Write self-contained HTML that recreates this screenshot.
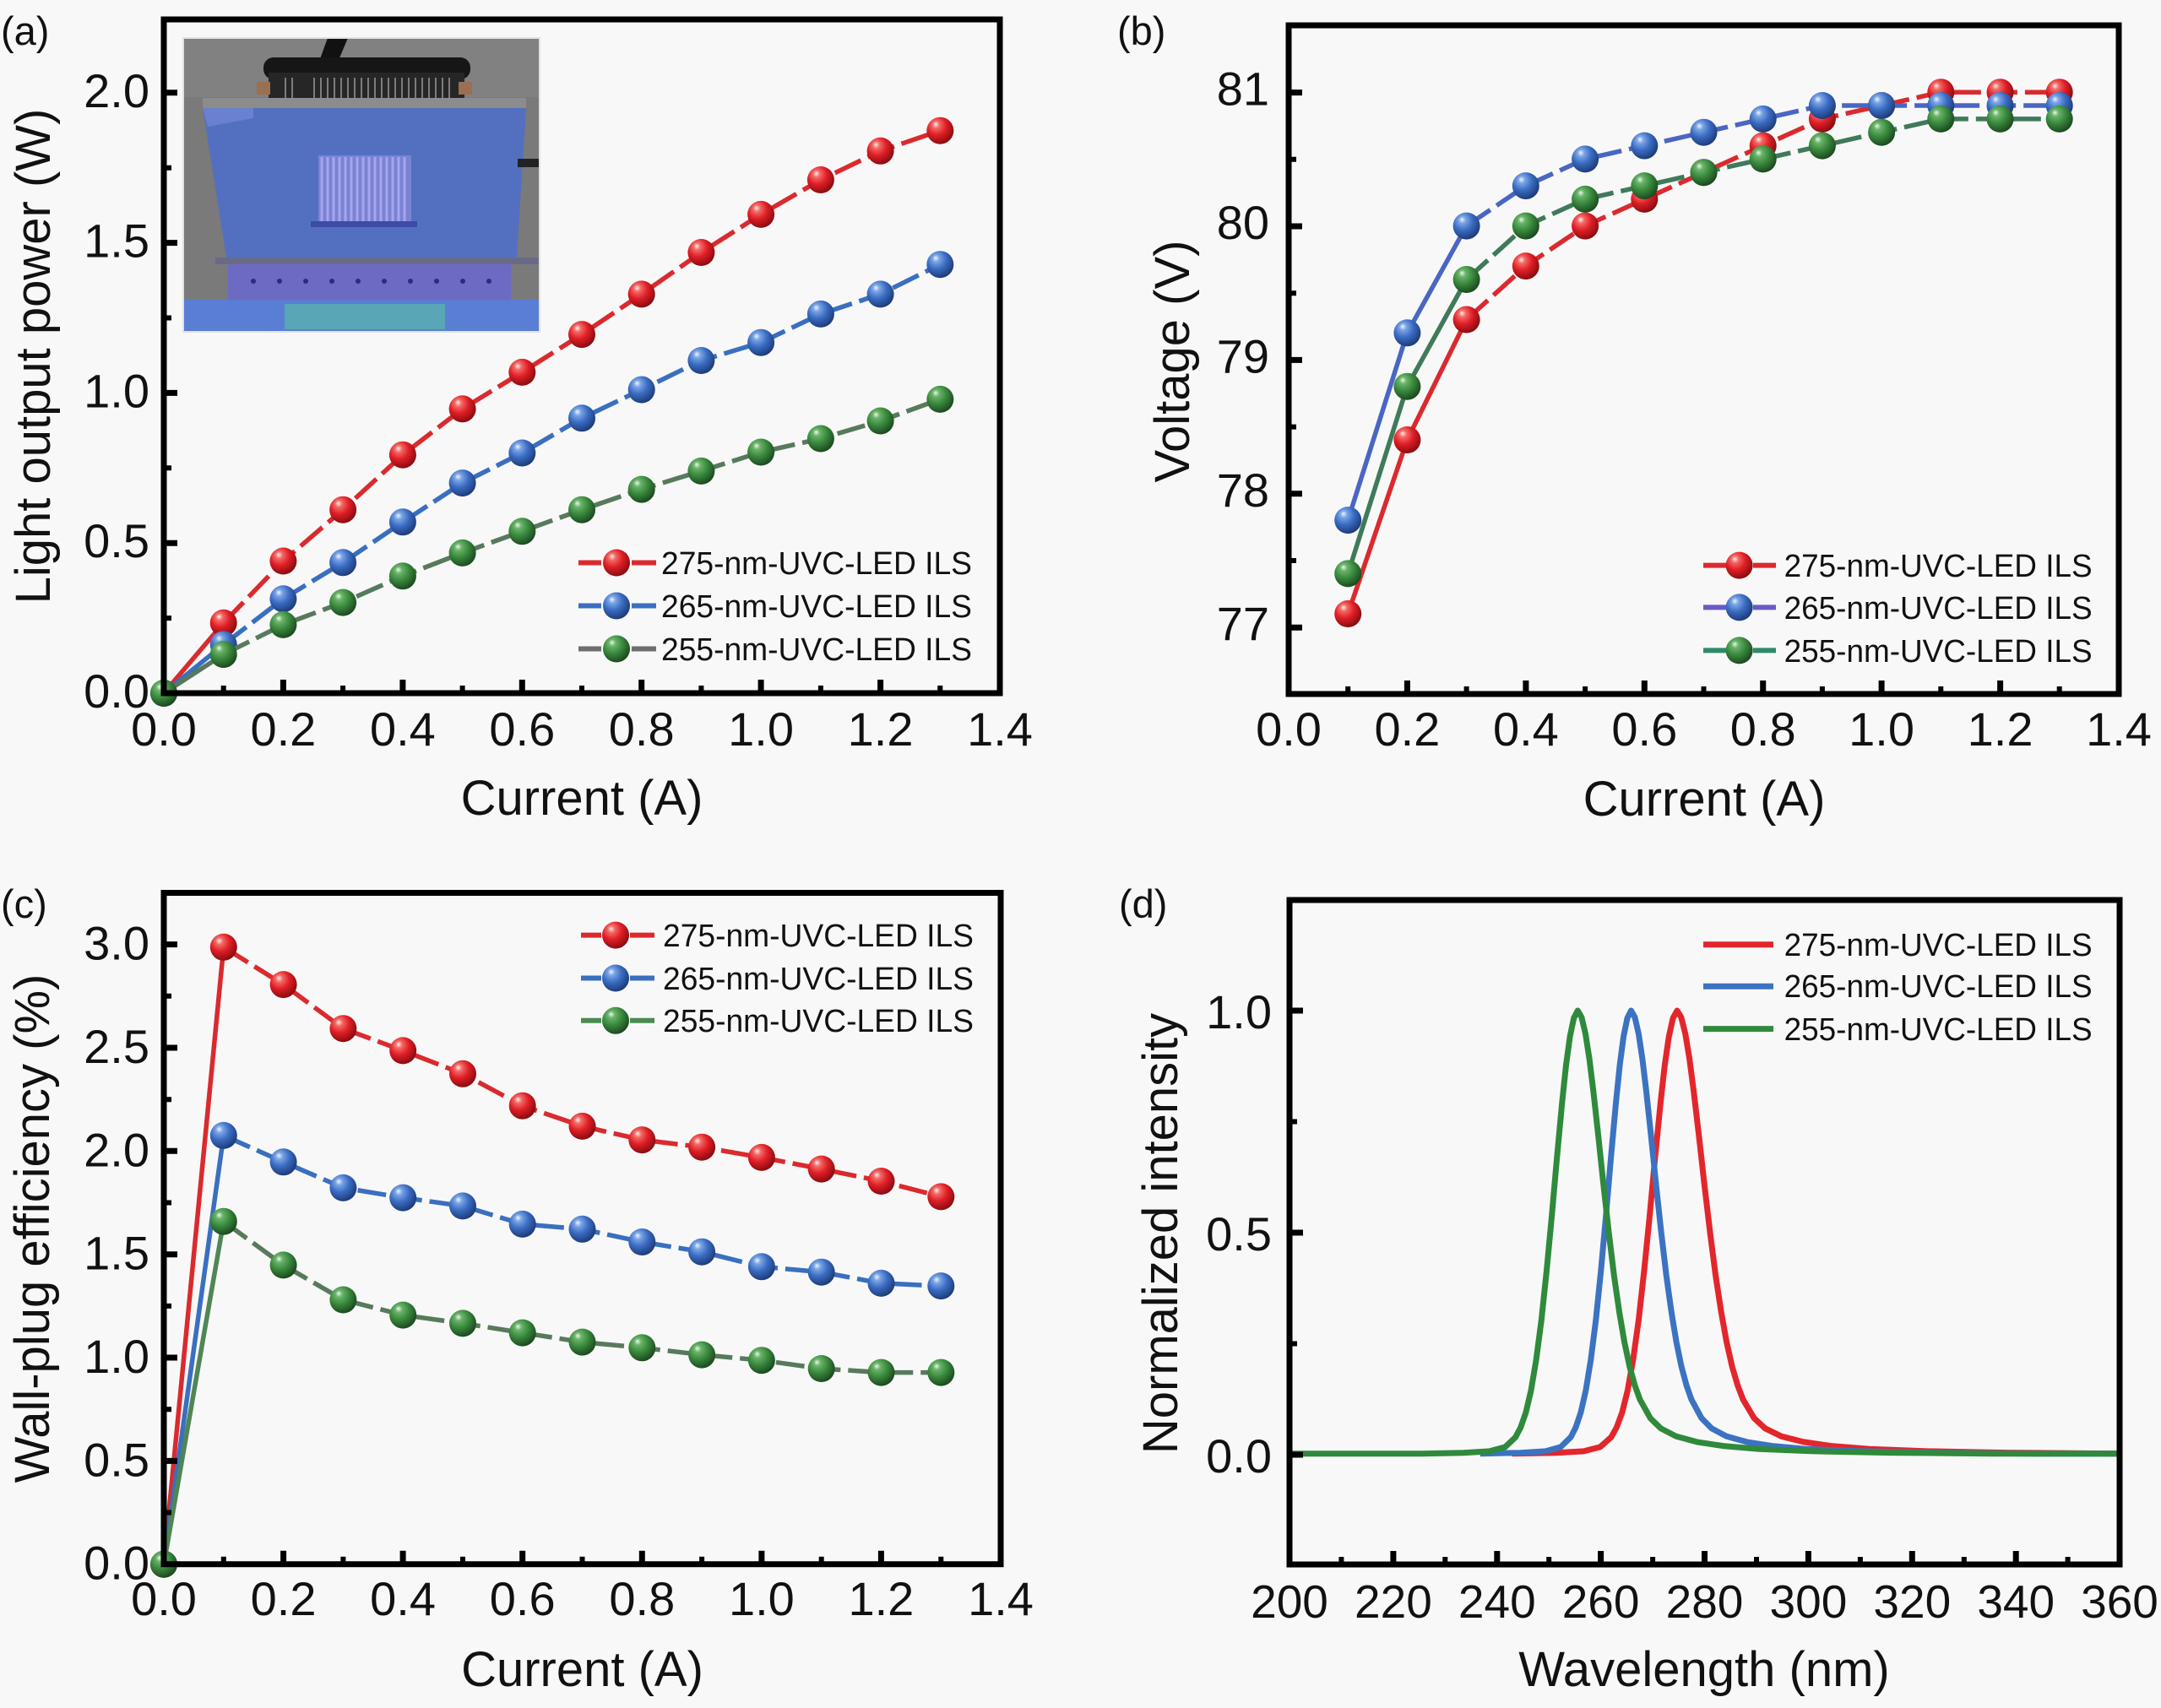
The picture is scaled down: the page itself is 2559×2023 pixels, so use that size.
<!DOCTYPE html>
<html><head><meta charset="utf-8"><style>
html,body{margin:0;padding:0;background:#f8f8f8;}
svg{display:block;}
text{font-family:"Liberation Sans",Arial,sans-serif;fill:#111;}
</style></head><body>
<svg width="2559" height="2023" viewBox="0 0 2559 2023" xmlns="http://www.w3.org/2000/svg">
<defs>
<radialGradient id="gR" cx="0.4" cy="0.35" r="0.65" fx="0.33" fy="0.26"><stop offset="0" stop-color="#fff0ea"/><stop offset="0.2" stop-color="#f36a66"/><stop offset="0.55" stop-color="#e01e26"/><stop offset="1" stop-color="#8a0c10"/></radialGradient>
<radialGradient id="gB" cx="0.4" cy="0.35" r="0.65" fx="0.33" fy="0.26"><stop offset="0" stop-color="#eef4ff"/><stop offset="0.2" stop-color="#7aa4e6"/><stop offset="0.55" stop-color="#3a6cc2"/><stop offset="1" stop-color="#1e3c7a"/></radialGradient>
<radialGradient id="gG" cx="0.4" cy="0.35" r="0.65" fx="0.33" fy="0.26"><stop offset="0" stop-color="#eaf6ea"/><stop offset="0.2" stop-color="#6ab46a"/><stop offset="0.55" stop-color="#3a8a3e"/><stop offset="1" stop-color="#1c4a20"/></radialGradient>
<circle id="mR" r="16" fill="url(#gR)"/>
<circle id="mB" r="16" fill="url(#gB)"/>
<circle id="mG" r="16" fill="url(#gG)"/>
<path id="spec" vector-effect="non-scaling-stroke" d="M-184.3 -1.3 L-135.2 -2.3 -104.4 -4.1 -86 -9.1 -73.7 -20.7 -67.6 -32.3 -61.4 -50.1 -55.3 -76.1 -49.2 -112.3 -43 -159.5 -36.9 -217.2 -30.7 -282.8 -24.6 -352.1 -18.4 -418.2 -13.8 -461.6 -9.2 -495.3 -4.6 -517.2 0 -526 4.6 -518 9.2 -498.5 13.8 -468.8 18.4 -431.6 24.6 -375.5 30.7 -317.7 36.9 -262.4 43 -212.3 49.2 -169.2 55.3 -133.3 61.4 -104.6 67.6 -82.2 73.7 -65.3 86 -43.3 98.3 -31.2 116.7 -21.7 141.3 -15.1 172 -10.4 215 -6.7 276.5 -4.2 368.6 -2.4 491.5 -1.3"/>
</defs>

<rect x="0" y="0" width="2559" height="2023" fill="#f8f8f8"/>

<!-- ================= PANEL (a) ================= -->
<!-- inset photo -->
<g>
<rect x="217" y="45" width="422" height="348" fill="#7a7a7a"/>
<rect x="217" y="45" width="422" height="70" fill="#818181"/>
<polygon points="388,45 412,45 398,78 376,78" fill="#111"/>
<rect x="312" y="68" width="245" height="26" rx="12" fill="#161616"/>
<rect x="318" y="86" width="232" height="32" fill="#262626"/>
<path d="M372 92v24M380 92v24M388 92v24M396 92v24M404 92v24M412 92v24M420 92v24M428 92v24M436 92v24M444 92v24M452 92v24M460 92v24M468 92v24M476 92v24M484 92v24M492 92v24M500 92v24M508 92v24M516 92v24M524 92v24M532 92v24M338 92v24M346 92v24" stroke="#7c7c7c" stroke-width="2"/>
<rect x="304" y="97" width="16" height="15" fill="#9a6f52"/>
<rect x="543" y="97" width="16" height="15" fill="#9a6f52"/>
<rect x="240" y="116" width="383" height="14" fill="#8c8c8c"/>
<polygon points="240,128 623,128 612,305 268,305" fill="#5370c0"/>
<polygon points="240,128 300,128 300,140 246,150" fill="#6a80d0"/>
<rect x="377" y="184" width="110" height="80" fill="#7b82d4"/>
<path d="M381 186v76M388 186v76M395 186v76M402 186v76M409 186v76M416 186v76M423 186v76M430 186v76M437 186v76M444 186v76M451 186v76M458 186v76M465 186v76M472 186v76M479 186v76" stroke="#a4a6ee" stroke-width="3"/>
<rect x="368" y="262" width="126" height="7" fill="#3c4ca6"/>
<rect x="613" y="188" width="26" height="10" fill="#222"/>
<rect x="255" y="305" width="384" height="8" fill="#6a6a86"/>
<rect x="270" y="313" width="335" height="42" fill="#6c6ac2"/>
<g fill="#2a2a8a"><circle cx="300" cy="333" r="3"/><circle cx="331" cy="333" r="3"/><circle cx="362" cy="333" r="3"/><circle cx="393" cy="333" r="3"/><circle cx="424" cy="333" r="3"/><circle cx="455" cy="333" r="3"/><circle cx="486" cy="333" r="3"/><circle cx="517" cy="333" r="3"/><circle cx="548" cy="333" r="3"/><circle cx="579" cy="333" r="3"/></g>
<rect x="217" y="355" width="422" height="38" fill="#5a7ed4"/>
<rect x="337" y="360" width="190" height="30" fill="#58a6b6"/>
<rect x="217" y="45" width="422" height="348" fill="none" stroke="#e2e2e2" stroke-width="2"/>
</g>

<!-- series (a) -->
<g fill="none" stroke-width="5.5">
<path d="M194 821L264.7 737.8" stroke="#da2a2e"/>
<polyline stroke="#da2a2e" stroke-dasharray="34 9" points="264.7,737.8 335.4,664.5 406.1,603.7 476.9,538.7 547.6,484.3 618.3,440.9 689.0,396.1 759.7,348.4 830.4,299.0 901.1,253.9 971.9,213.0 1042.6,178.8 1113.3,154.7"/>
</g>
<g><use href="#mR" x="194" y="821"/><use href="#mR" x="264.7" y="737.8"/><use href="#mR" x="335.4" y="664.5"/><use href="#mR" x="406.1" y="603.7"/><use href="#mR" x="476.9" y="538.7"/><use href="#mR" x="547.6" y="484.3"/><use href="#mR" x="618.3" y="440.9"/><use href="#mR" x="689.0" y="396.1"/><use href="#mR" x="759.7" y="348.4"/><use href="#mR" x="830.4" y="299.0"/><use href="#mR" x="901.1" y="253.9"/><use href="#mR" x="971.9" y="213.0"/><use href="#mR" x="1042.6" y="178.8"/><use href="#mR" x="1113.3" y="154.7"/></g>
<g fill="none" stroke-width="5.5">
<path d="M194 821L264.7 763.4" stroke="#3a6fc0"/>
<polyline stroke="#3a6fc0" stroke-dasharray="34 9" points="264.7,763.4 335.4,709.3 406.1,666.3 476.9,618.3 547.6,572.1 618.3,536.5 689.0,495.3 759.7,461.5 830.4,427.0 901.1,405.7 971.9,371.9 1042.6,348.4 1113.3,313.2"/>
</g>
<g><use href="#mB" x="194" y="821"/><use href="#mB" x="264.7" y="763.4"/><use href="#mB" x="335.4" y="709.3"/><use href="#mB" x="406.1" y="666.3"/><use href="#mB" x="476.9" y="618.3"/><use href="#mB" x="547.6" y="572.1"/><use href="#mB" x="618.3" y="536.5"/><use href="#mB" x="689.0" y="495.3"/><use href="#mB" x="759.7" y="461.5"/><use href="#mB" x="830.4" y="427.0"/><use href="#mB" x="901.1" y="405.7"/><use href="#mB" x="971.9" y="371.9"/><use href="#mB" x="1042.6" y="348.4"/><use href="#mB" x="1113.3" y="313.2"/></g>
<g fill="none" stroke-width="5.5">
<path d="M194 821L264.7 775.1" stroke="#587a5c"/>
<polyline stroke="#587a5c" stroke-dasharray="34 9" points="264.7,775.1 335.4,739.9 406.1,713.6 476.9,682.3 547.6,654.9 618.3,629.3 689.0,603.7 759.7,579.6 830.4,557.9 901.1,535.5 971.9,519.5 1042.6,498.5 1113.3,472.9"/>
</g>
<g><use href="#mG" x="194" y="821"/><use href="#mG" x="264.7" y="775.1"/><use href="#mG" x="335.4" y="739.9"/><use href="#mG" x="406.1" y="713.6"/><use href="#mG" x="476.9" y="682.3"/><use href="#mG" x="547.6" y="654.9"/><use href="#mG" x="618.3" y="629.3"/><use href="#mG" x="689.0" y="603.7"/><use href="#mG" x="759.7" y="579.6"/><use href="#mG" x="830.4" y="557.9"/><use href="#mG" x="901.1" y="535.5"/><use href="#mG" x="971.9" y="519.5"/><use href="#mG" x="1042.6" y="498.5"/><use href="#mG" x="1113.3" y="472.9"/></g>

<!-- legend (a) -->
<g stroke-width="6">
<path d="M685 666.5h27M748 666.5h29" stroke="#da2a2e"/>
<path d="M685 717.5h27M748 717.5h29" stroke="#3a6fc0"/>
<path d="M685 768.5h27M748 768.5h29" stroke="#6e6e6e"/>
</g>
<use href="#mR" x="730" y="666.5"/><use href="#mB" x="730" y="717.5"/><use href="#mG" x="730" y="768.5"/>
<g font-size="38">
<text x="783" y="680" textLength="368" lengthAdjust="spacingAndGlyphs">275-nm-UVC-LED ILS</text>
<text x="783" y="731" textLength="368" lengthAdjust="spacingAndGlyphs">265-nm-UVC-LED ILS</text>
<text x="783" y="782" textLength="368" lengthAdjust="spacingAndGlyphs">255-nm-UVC-LED ILS</text>
</g>

<!-- frame & ticks (a) -->
<rect x="194" y="23" width="990" height="798" fill="none" stroke="#000" stroke-width="7"/>
<path d="M335.4 821v-16M476.9 821v-16M618.3 821v-16M759.7 821v-16M901.1 821v-16M1042.6 821v-16M194 643.2h16M194 465.4h16M194 287.6h16M194 109.8h16" stroke="#000" stroke-width="7"/>
<path d="M264.7 821v-9M406.1 821v-9M547.6 821v-9M689.0 821v-9M830.4 821v-9M971.9 821v-9M1113.3 821v-9M194 732.1h9M194 554.3h9M194 376.5h9M194 198.7h9" stroke="#000" stroke-width="6"/>
<g font-size="56" text-anchor="middle">
<text x="194" y="883">0.0</text><text x="335.4" y="883">0.2</text><text x="476.9" y="883">0.4</text><text x="618.3" y="883">0.6</text><text x="759.7" y="883">0.8</text><text x="901.1" y="883">1.0</text><text x="1042.6" y="883">1.2</text><text x="1184" y="883">1.4</text>
</g>
<g font-size="56" text-anchor="end">
<text x="177" y="838">0.0</text><text x="177" y="660.2">0.5</text><text x="177" y="482.4">1.0</text><text x="177" y="304.6">1.5</text><text x="177" y="126.8">2.0</text>
</g>
<text x="689" y="965" font-size="58" text-anchor="middle">Current (A)</text>
<text transform="translate(59,422) rotate(-90)" font-size="58" text-anchor="middle">Light output power (W)</text>
<text x="1" y="53" font-size="47">(a)</text>

<!-- ================= PANEL (b) ================= -->
<g fill="none" stroke-width="5.5">
<path d="M1596.2 727.0L1666.4 521.0L1736.6 378.5" stroke="#da2a2e"/>
<polyline stroke="#da2a2e" stroke-dasharray="34 9" points="1736.6,378.5 1806.8,315.1 1877.1,267.6 1947.3,235.9 2017.5,204.2 2087.7,172.6 2157.9,140.9 2228.1,125.0 2298.3,109.2 2368.5,109.2 2438.7,109.2"/>
</g>
<g><use href="#mR" x="1596.2" y="727.0"/><use href="#mR" x="1666.4" y="521.0"/><use href="#mR" x="1736.6" y="378.5"/><use href="#mR" x="1806.8" y="315.1"/><use href="#mR" x="1877.1" y="267.6"/><use href="#mR" x="1947.3" y="235.9"/><use href="#mR" x="2017.5" y="204.2"/><use href="#mR" x="2087.7" y="172.6"/><use href="#mR" x="2157.9" y="140.9"/><use href="#mR" x="2228.1" y="125.0"/><use href="#mR" x="2298.3" y="109.2"/><use href="#mR" x="2368.5" y="109.2"/><use href="#mR" x="2438.7" y="109.2"/></g>
<g fill="none" stroke-width="5.5">
<path d="M1596.2 616.1L1666.4 394.3L1736.6 267.6" stroke="#4a66c4"/>
<polyline stroke="#4a66c4" stroke-dasharray="34 9" points="1736.6,267.6 1806.8,220.1 1877.1,188.4 1947.3,172.6 2017.5,156.7 2087.7,140.9 2157.9,125.0 2228.1,125.0 2298.3,125.0 2368.5,125.0 2438.7,125.0"/>
</g>
<g><use href="#mB" x="1596.2" y="616.1"/><use href="#mB" x="1666.4" y="394.3"/><use href="#mB" x="1736.6" y="267.6"/><use href="#mB" x="1806.8" y="220.1"/><use href="#mB" x="1877.1" y="188.4"/><use href="#mB" x="1947.3" y="172.6"/><use href="#mB" x="2017.5" y="156.7"/><use href="#mB" x="2087.7" y="140.9"/><use href="#mB" x="2157.9" y="125.0"/><use href="#mB" x="2228.1" y="125.0"/><use href="#mB" x="2298.3" y="125.0"/><use href="#mB" x="2368.5" y="125.0"/><use href="#mB" x="2438.7" y="125.0"/></g>
<g fill="none" stroke-width="5.5">
<path d="M1596.2 679.4L1666.4 457.7L1736.6 331.0" stroke="#3f7a5a"/>
<polyline stroke="#3f7a5a" stroke-dasharray="34 9" points="1736.6,331.0 1806.8,267.6 1877.1,235.9 1947.3,220.1 2017.5,204.2 2087.7,188.4 2157.9,172.6 2228.1,156.7 2298.3,140.9 2368.5,140.9 2438.7,140.9"/>
</g>
<g><use href="#mG" x="1596.2" y="679.4"/><use href="#mG" x="1666.4" y="457.7"/><use href="#mG" x="1736.6" y="331.0"/><use href="#mG" x="1806.8" y="267.6"/><use href="#mG" x="1877.1" y="235.9"/><use href="#mG" x="1947.3" y="220.1"/><use href="#mG" x="2017.5" y="204.2"/><use href="#mG" x="2087.7" y="188.4"/><use href="#mG" x="2157.9" y="172.6"/><use href="#mG" x="2228.1" y="156.7"/><use href="#mG" x="2298.3" y="140.9"/><use href="#mG" x="2368.5" y="140.9"/><use href="#mG" x="2438.7" y="140.9"/></g>

<!-- legend (b) -->
<g stroke-width="6">
<path d="M2017 669.6h27M2076 669.6h27" stroke="#da2a2e"/>
<path d="M2017 719.4h27M2076 719.4h27" stroke="#6a5ac8"/>
<path d="M2017 770.4h27M2076 770.4h27" stroke="#2f8a6a"/>
</g>
<use href="#mR" x="2059.6" y="669.6"/><use href="#mB" x="2059.6" y="719.4"/><use href="#mG" x="2059.6" y="770.4"/>
<g font-size="38">
<text x="2112.6" y="683" textLength="365" lengthAdjust="spacingAndGlyphs">275-nm-UVC-LED ILS</text>
<text x="2112.6" y="733" textLength="365" lengthAdjust="spacingAndGlyphs">265-nm-UVC-LED ILS</text>
<text x="2112.6" y="784" textLength="365" lengthAdjust="spacingAndGlyphs">255-nm-UVC-LED ILS</text>
</g>

<rect x="1526" y="30" width="983" height="792" fill="none" stroke="#000" stroke-width="7"/>
<path d="M1666.4 822v-16M1806.9 822v-16M1947.3 822v-16M2087.7 822v-16M2228.1 822v-16M2368.6 822v-16M1526 743.2h16M1526 584.8h16M1526 426.4h16M1526 268.0h16M1526 109.6h16" stroke="#000" stroke-width="7"/>
<path d="M1596.2 822v-9M1736.6 822v-9M1877.1 822v-9M2017.5 822v-9M2157.9 822v-9M2298.3 822v-9M2438.7 822v-9M1526 664.0h9M1526 505.6h9M1526 347.2h9M1526 188.8h9" stroke="#000" stroke-width="6"/>
<g font-size="56" text-anchor="middle">
<text x="1526" y="883">0.0</text><text x="1666.4" y="883">0.2</text><text x="1806.9" y="883">0.4</text><text x="1947.3" y="883">0.6</text><text x="2087.7" y="883">0.8</text><text x="2228.1" y="883">1.0</text><text x="2368.6" y="883">1.2</text><text x="2509" y="883">1.4</text>
</g>
<g font-size="56" text-anchor="end">
<text x="1503" y="758.2">77</text><text x="1503" y="599.8">78</text><text x="1503" y="441.4">79</text><text x="1503" y="283.0">80</text><text x="1503" y="124.6">81</text>
</g>
<text x="2018" y="966" font-size="58" text-anchor="middle">Current (A)</text>
<text transform="translate(1408,428) rotate(-90)" font-size="58" text-anchor="middle">Voltage (V)</text>
<text x="1323" y="53" font-size="47">(b)</text>

<!-- ================= PANEL (c) ================= -->
<g fill="none" stroke-width="5.5">
<path d="M194 1852.7L264.8 1121.8" stroke="#da2a2e"/>
<polyline stroke="#da2a2e" stroke-dasharray="34 9" points="264.8,1121.8 335.6,1166.1 406.4,1218.2 477.2,1244.4 548.0,1271.8 618.7,1309.7 689.5,1333.9 760.3,1350.1 831.1,1358.7 901.9,1370.9 972.7,1384.6 1043.5,1399.0 1114.3,1417.4"/>
</g>
<g><use href="#mR" x="194" y="1852.7"/><use href="#mR" x="264.8" y="1121.8"/><use href="#mR" x="335.6" y="1166.1"/><use href="#mR" x="406.4" y="1218.2"/><use href="#mR" x="477.2" y="1244.4"/><use href="#mR" x="548.0" y="1271.8"/><use href="#mR" x="618.7" y="1309.7"/><use href="#mR" x="689.5" y="1333.9"/><use href="#mR" x="760.3" y="1350.1"/><use href="#mR" x="831.1" y="1358.7"/><use href="#mR" x="901.9" y="1370.9"/><use href="#mR" x="972.7" y="1384.6"/><use href="#mR" x="1043.5" y="1399.0"/><use href="#mR" x="1114.3" y="1417.4"/></g>
<g fill="none" stroke-width="5.5">
<path d="M194 1852.7L264.8 1344.9" stroke="#3a6fc0"/>
<polyline stroke="#3a6fc0" stroke-dasharray="34 9" points="264.8,1344.9 335.6,1376.3 406.4,1406.9 477.2,1418.6 548.0,1428.4 618.7,1449.9 689.5,1455.8 760.3,1471.0 831.1,1482.7 901.9,1500.3 972.7,1506.7 1043.5,1519.9 1114.3,1523.1"/>
</g>
<g><use href="#mB" x="194" y="1852.7"/><use href="#mB" x="264.8" y="1344.9"/><use href="#mB" x="335.6" y="1376.3"/><use href="#mB" x="406.4" y="1406.9"/><use href="#mB" x="477.2" y="1418.6"/><use href="#mB" x="548.0" y="1428.4"/><use href="#mB" x="618.7" y="1449.9"/><use href="#mB" x="689.5" y="1455.8"/><use href="#mB" x="760.3" y="1471.0"/><use href="#mB" x="831.1" y="1482.7"/><use href="#mB" x="901.9" y="1500.3"/><use href="#mB" x="972.7" y="1506.7"/><use href="#mB" x="1043.5" y="1519.9"/><use href="#mB" x="1114.3" y="1523.1"/></g>
<g fill="none" stroke-width="5.5">
<path d="M194 1852.7L264.8 1446.7" stroke="#4f8656"/>
<polyline stroke="#587a5c" stroke-dasharray="34 9" points="264.8,1446.7 335.6,1498.4 406.4,1539.5 477.2,1557.6 548.0,1567.4 618.7,1578.6 689.5,1589.6 760.3,1596.3 831.1,1604.6 901.9,1611.2 972.7,1621.0 1043.5,1625.6 1114.3,1625.6"/>
</g>
<g><use href="#mG" x="194" y="1852.7"/><use href="#mG" x="264.8" y="1446.7"/><use href="#mG" x="335.6" y="1498.4"/><use href="#mG" x="406.4" y="1539.5"/><use href="#mG" x="477.2" y="1557.6"/><use href="#mG" x="548.0" y="1567.4"/><use href="#mG" x="618.7" y="1578.6"/><use href="#mG" x="689.5" y="1589.6"/><use href="#mG" x="760.3" y="1596.3"/><use href="#mG" x="831.1" y="1604.6"/><use href="#mG" x="901.9" y="1611.2"/><use href="#mG" x="972.7" y="1621.0"/><use href="#mG" x="1043.5" y="1625.6"/><use href="#mG" x="1114.3" y="1625.6"/></g>

<!-- legend (c) -->
<g stroke-width="6">
<path d="M688 1107.6h24M746 1107.6h29" stroke="#da2a2e"/>
<path d="M688 1158.5h24M746 1158.5h29" stroke="#3a6fc0"/>
<path d="M688 1208.8h24M746 1208.8h29" stroke="#4a8a50"/>
</g>
<use href="#mR" x="729" y="1107.6"/><use href="#mB" x="729" y="1158.5"/><use href="#mG" x="729" y="1208.8"/>
<g font-size="38">
<text x="785" y="1121" textLength="368" lengthAdjust="spacingAndGlyphs">275-nm-UVC-LED ILS</text>
<text x="785" y="1172" textLength="368" lengthAdjust="spacingAndGlyphs">265-nm-UVC-LED ILS</text>
<text x="785" y="1222" textLength="368" lengthAdjust="spacingAndGlyphs">255-nm-UVC-LED ILS</text>
</g>

<rect x="194" y="1057.5" width="991" height="795.2" fill="none" stroke="#000" stroke-width="7"/>
<path d="M335.6 1852.7v-16M477.1 1852.7v-16M618.7 1852.7v-16M760.3 1852.7v-16M901.9 1852.7v-16M1043.4 1852.7v-16M194 1730.4h16M194 1608.0h16M194 1485.7h16M194 1363.3h16M194 1241.0h16M194 1118.6h16" stroke="#000" stroke-width="7"/>
<path d="M264.8 1852.7v-9M406.4 1852.7v-9M548.0 1852.7v-9M689.5 1852.7v-9M831.1 1852.7v-9M972.7 1852.7v-9M1114.3 1852.7v-9M194 1791.5h9M194 1669.2h9M194 1546.9h9M194 1424.5h9M194 1302.2h9M194 1179.8h9" stroke="#000" stroke-width="6"/>
<g font-size="56" text-anchor="middle">
<text x="194" y="1913">0.0</text><text x="335.6" y="1913">0.2</text><text x="477.1" y="1913">0.4</text><text x="618.7" y="1913">0.6</text><text x="760.3" y="1913">0.8</text><text x="901.9" y="1913">1.0</text><text x="1043.4" y="1913">1.2</text><text x="1185" y="1913">1.4</text>
</g>
<g font-size="56" text-anchor="end">
<text x="177" y="1870.7">0.0</text><text x="177" y="1748.4">0.5</text><text x="177" y="1626.0">1.0</text><text x="177" y="1503.7">1.5</text><text x="177" y="1381.3">2.0</text><text x="177" y="1259.0">2.5</text><text x="177" y="1136.6">3.0</text>
</g>
<text x="689.5" y="1997" font-size="58" text-anchor="middle">Current (A)</text>
<text transform="translate(58,1455) rotate(-90)" font-size="58" text-anchor="middle">Wall-plug efficiency (%)</text>
<text x="1" y="1087" font-size="47">(c)</text>

<!-- ================= PANEL (d) ================= -->
<g fill="none" stroke-width="7" stroke-linejoin="round">
<use href="#spec" stroke="#e3262b" transform="translate(1986,1723) scale(1.06,1)"/>
<path d="M2507 1721.7H2510" stroke="#e3262b"/>
<use href="#spec" stroke="#3b73c2" transform="translate(1931.5,1723) scale(0.97,1)"/>
<path d="M2408 1721.7H2510" stroke="#3b73c2"/>
<use href="#spec" stroke="#2f8a3c" transform="translate(1868.3,1723)"/>
<path d="M1527 1721.7H1684.5M2359.5 1721.7H2510" stroke="#2f8a3c"/>
</g>

<!-- legend (d) -->
<g stroke-width="7">
<path d="M2017 1118.7h83" stroke="#e3262b"/>
<path d="M2017 1168.3h83" stroke="#3b73c2"/>
<path d="M2017 1218.6h83" stroke="#2f8a3c"/>
</g>
<g font-size="38">
<text x="2112.6" y="1132" textLength="365" lengthAdjust="spacingAndGlyphs">275-nm-UVC-LED ILS</text>
<text x="2112.6" y="1181" textLength="365" lengthAdjust="spacingAndGlyphs">265-nm-UVC-LED ILS</text>
<text x="2112.6" y="1232" textLength="365" lengthAdjust="spacingAndGlyphs">255-nm-UVC-LED ILS</text>
</g>

<rect x="1527" y="1066" width="983" height="787" fill="none" stroke="#000" stroke-width="7"/>
<path d="M1649.9 1853v-16M1772.8 1853v-16M1895.6 1853v-16M2018.5 1853v-16M2141.4 1853v-16M2264.3 1853v-16M2387.2 1853v-16M1527 1723h16M1527 1460h16M1527 1197h16" stroke="#000" stroke-width="7"/>
<path d="M1588.4 1853v-9M1711.3 1853v-9M1834.2 1853v-9M1957.1 1853v-9M2080.0 1853v-9M2202.9 1853v-9M2325.8 1853v-9M2448.6 1853v-9M1527 1591.5h9M1527 1328.5h9" stroke="#000" stroke-width="6"/>
<g font-size="55" text-anchor="middle">
<text x="1527" y="1916">200</text><text x="1649.9" y="1916">220</text><text x="1772.8" y="1916">240</text><text x="1895.6" y="1916">260</text><text x="2018.5" y="1916">280</text><text x="2141.4" y="1916">300</text><text x="2264.3" y="1916">320</text><text x="2387.2" y="1916">340</text><text x="2510" y="1916">360</text>
</g>
<g font-size="56" text-anchor="end">
<text x="1506" y="1744">0.0</text><text x="1506" y="1481">0.5</text><text x="1506" y="1218">1.0</text>
</g>
<text x="2018" y="1997" font-size="58" text-anchor="middle">Wavelength (nm)</text>
<text transform="translate(1394,1461) rotate(-90)" font-size="58" text-anchor="middle">Normalized intensity</text>
<text x="1325" y="1087" font-size="47">(d)</text>
</svg>
</body></html>
